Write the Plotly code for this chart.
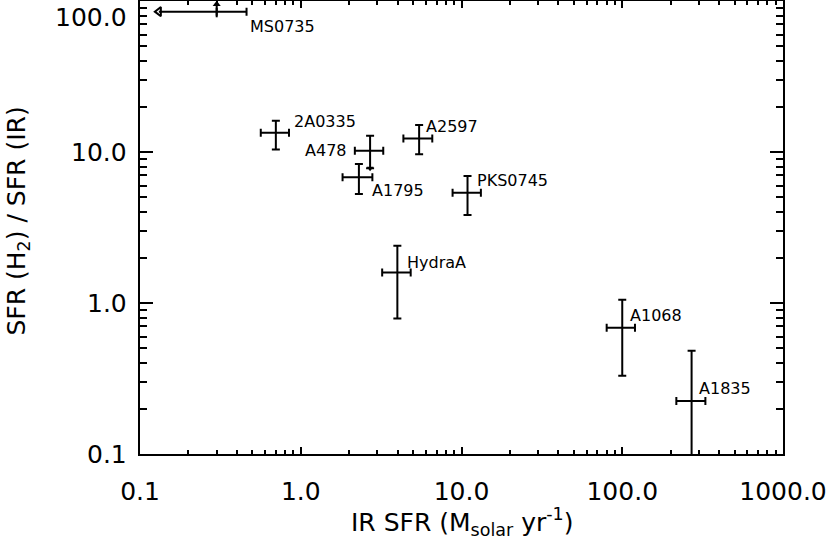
import math
import plotly.graph_objects as go

# ---- data ----
names = ['2A0335', 'A478', 'A2597', 'A1795', 'PKS0745', 'HydraA', 'A1068', 'A1835']
ir_sfr = [0.70, 2.70, 5.45, 2.30, 10.9, 3.99, 100.0, 270.0]
ir_sfr_lo = [0.564, 2.17, 4.35, 1.82, 8.8, 3.21, 80.0, 217.0]
ir_sfr_hi = [0.845, 3.26, 6.58, 2.79, 13.2, 4.83, 120.0, 329.0]
ratio = [13.4, 10.2, 12.3, 6.8, 5.37, 1.59, 0.686, 0.224]
ratio_lo = [10.4, 7.8, 9.66, 5.27, 3.83, 0.79, 0.33, 0.02]
ratio_hi = [16.1, 12.8, 15.1, 8.34, 6.93, 2.39, 1.05, 0.483]

# MS0735: limits (arrows)
ms_name = 'MS0735'
ms_x = 0.30
ms_x_hi = 0.46
ms_x_arrow = 0.131
ms_y = 85.0
ms_y_lo = 78.0
ms_y_arrow = 95.0

# label offsets in pixels (dx, dy, anchor)
label_offsets = {
    '2A0335': (16, 11, 'left'),
    'A478': (-22, 0, 'right'),
    'A2597': (5, 12, 'left'),
    'A1795': (11, -13, 'left'),
    'PKS0745': (7, 12, 'left'),
    'HydraA': (8, 10, 'left'),
    'A1068': (6, 12, 'left'),
    'A1835': (5, 13, 'left'),
}

xtick_vals = [0.1, 1, 10, 100, 1000]
xtick_text = ['0.1', '1.0', '10.0', '100.0', '1000.0']
ytick_vals = [0.1, 1, 10, 100]
ytick_text = ['0.1', '1.0', '10.0', '100.0']

FONT = 'DejaVu Sans'
LW = 2

fig = go.Figure()

fig.add_trace(go.Scatter(
    x=ir_sfr, y=ratio, mode='markers',
    marker=dict(size=1, color='black', opacity=0),
    error_x=dict(type='data', symmetric=False,
                 array=[h - v for h, v in zip(ir_sfr_hi, ir_sfr)],
                 arrayminus=[v - l for l, v in zip(ir_sfr_lo, ir_sfr)],
                 color='black', thickness=LW, width=4),
    error_y=dict(type='data', symmetric=False,
                 array=[h - v for h, v in zip(ratio_hi, ratio)],
                 arrayminus=[v - l for l, v in zip(ratio_lo, ratio)],
                 color='black', thickness=LW, width=4),
    showlegend=False, hoverinfo='skip'))

# A478 lower arrowhead
i478 = names.index('A478')
fig.add_trace(go.Scatter(
    x=[ir_sfr[i478]], y=[ratio_lo[i478]], mode='markers',
    marker=dict(symbol='triangle-down', size=6, color='black'),
    showlegend=False, hoverinfo='skip'))

# MS0735 horizontal: arrow to the left + cap on the right
fig.add_trace(go.Scatter(
    x=[ms_x_arrow, ms_x], y=[ms_y, ms_y], mode='lines',
    line=dict(color='black', width=LW),
    showlegend=False, hoverinfo='skip'))
fig.add_trace(go.Scatter(
    x=[ms_x], y=[ms_y], mode='markers',
    marker=dict(size=1, opacity=0),
    error_x=dict(type='data', symmetric=False, array=[ms_x_hi - ms_x], arrayminus=[0],
                 color='black', thickness=LW, width=4),
    showlegend=False, hoverinfo='skip'))
fig.add_trace(go.Scatter(
    x=[ms_x_arrow], y=[ms_y], mode='markers',
    marker=dict(symbol='triangle-left-open', size=8, color='black',
                line=dict(color='black', width=2)),
    showlegend=False, hoverinfo='skip'))
# MS0735 vertical: arrow up
fig.add_trace(go.Scatter(
    x=[ms_x, ms_x], y=[ms_y_lo, ms_y_arrow], mode='lines',
    line=dict(color='black', width=LW),
    showlegend=False, hoverinfo='skip'))
fig.add_trace(go.Scatter(
    x=[ms_x], y=[ms_y_arrow], mode='markers',
    marker=dict(symbol='triangle-up', size=7, color='black'),
    showlegend=False, hoverinfo='skip', cliponaxis=False))

annotations = []
for n, xv, yv in zip(names, ir_sfr, ratio):
    dx, dy, anc = label_offsets[n]
    annotations.append(dict(
        x=math.log10(xv), y=math.log10(yv), xref='x', yref='y',
        text=n, showarrow=False, xanchor=anc, yanchor='middle',
        xshift=dx, yshift=dy, font=dict(family=FONT, size=16, color='black')))
annotations.append(dict(
    x=math.log10(ms_x), y=math.log10(ms_y), xref='x', yref='y',
    text=ms_name, showarrow=False, xanchor='left', yanchor='middle',
    xshift=31, yshift=-15, font=dict(family=FONT, size=16, color='black')))

# y tick labels
for v, t in zip(ytick_vals, ytick_text):
    top = (v == max(ytick_vals))
    annotations.append(dict(
        x=0, xref='paper', y=math.log10(v), yref='y', text=t, showarrow=False,
        xanchor='right', yanchor='top' if top else 'middle', xshift=-11,
        yshift=0, font=dict(family=FONT, size=25, color='black')))

# axis titles
annotations.append(dict(
    x=0, xref='paper', y=0.5, yref='paper', xshift=-123, yshift=6,
    text='SFR (H<sub>2</sub>) / SFR (IR)', textangle=-90, showarrow=False,
    xanchor='center', yanchor='middle', font=dict(family=FONT, size=25, color='black')))
annotations.append(dict(
    x=0.5, xref='paper', y=0, yref='paper', yshift=-68,
    text='IR SFR (M<sub>solar</sub> yr<sup>-1</sup>)', showarrow=False,
    xanchor='center', yanchor='middle', font=dict(family=FONT, size=25, color='black')))

axis_common = dict(
    type='log', showgrid=False, zeroline=False,
    showline=True, linecolor='black', linewidth=LW, mirror='allticks',
    ticks='inside', tickcolor='black', tickwidth=1.5,
)

fig.update_layout(
    width=831, height=541,
    margin=dict(l=140, r=48, t=1, b=87, autoexpand=False),
    paper_bgcolor='white', plot_bgcolor='white',
    font=dict(family=FONT, color='black'),
    xaxis=dict(range=[-1, 3], tickmode='array', tickvals=xtick_vals,
               ticktext=xtick_text,
               ticklen=7, tickfont=dict(family=FONT, size=25),
               ticklabelstandoff=14,
               minor=dict(ticks='inside', ticklen=4, tickwidth=1.5, tickcolor='black',
                          dtick='D1', showgrid=False),
               **axis_common),
    yaxis=dict(range=[-1, 2], tickmode='array', tickvals=ytick_vals,
               showticklabels=False, ticklen=13,
               minor=dict(ticks='inside', ticklen=7, tickwidth=1.5, tickcolor='black',
                          dtick='D1', showgrid=False),
               **axis_common),
    annotations=annotations,
    showlegend=False,
)

fig.write_html('out.html',
               config={'displayModeBar': False},
               post_script="document.body.style.margin='0';document.body.style.overflow='hidden';")
